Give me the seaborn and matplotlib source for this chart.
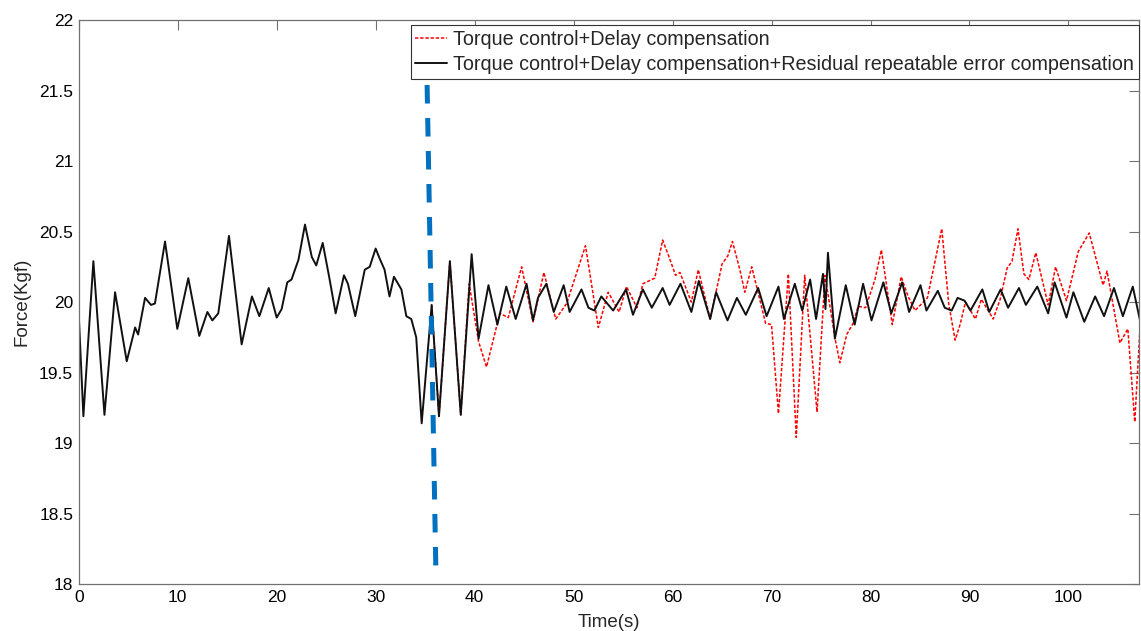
import matplotlib
matplotlib.use('Agg')
import matplotlib.pyplot as plt
import seaborn as sns
import pandas as pd
from matplotlib.ticker import FuncFormatter, MultipleLocator


# time / force (black = with residual compensation)
black_t = [0.03, 0.47, 1.48, 2.6, 3.67, 4.85, 5.7, 6.0, 6.7, 7.3, 7.7, 8.72, 9.96, 11.07, 12.18,
           13.0, 13.5, 14.1, 15.18, 16.46, 17.5, 18.25, 19.2, 20.0, 20.5, 21.07, 21.5, 22.2, 22.86,
           23.55, 24.0, 24.65, 25.3, 25.96, 26.8, 27.2, 27.94, 28.9, 29.4, 30.0, 30.4, 30.9, 31.4,
           31.85, 32.6, 33.1, 33.6, 34.1, 34.65, 35.66, 36.4, 37.5, 38.6, 39.7, 40.4, 41.4, 42.3,
           43.2, 44.15, 45.25, 45.9, 46.4, 47.25, 48.0, 49.0, 49.6, 50.8, 51.5, 52.1, 52.8, 54.0,
           55.3, 56.0, 57.0, 57.9, 59.0, 59.7, 60.8, 61.9, 62.65, 63.8, 64.4, 65.55, 66.5, 67.4,
           68.65, 69.5, 70.7, 71.25, 72.35, 73.1, 73.9, 74.5, 75.2, 75.45, 75.7, 76.4, 77.5, 78.4,
           79.25, 80.1, 81.3, 82.1, 83.2, 83.9, 85.05, 85.65, 86.8, 87.5, 88.2, 88.8, 89.5, 90.1,
           91.3, 92.0, 93.15, 93.9, 95.0, 95.7, 96.85, 97.95, 98.6, 99.8, 100.5, 101.6, 102.7,
           103.6, 104.6, 105.5, 106.5, 107.2]
black_f = [19.87, 19.19, 20.29, 19.20, 20.07, 19.58, 19.82, 19.77, 20.03, 19.98, 19.99, 20.43, 19.81,
           20.17, 19.76, 19.93, 19.87, 19.92, 20.47, 19.70, 20.04, 19.90, 20.10, 19.89, 19.95, 20.14,
           20.16, 20.30, 20.55, 20.32, 20.26, 20.42, 20.18, 19.92, 20.19, 20.13, 19.90, 20.23, 20.25,
           20.38, 20.31, 20.23, 20.04, 20.18, 20.09, 19.90, 19.88, 19.75, 19.14, 19.98, 19.19, 20.29,
           19.20, 20.34, 19.74, 20.12, 19.84, 20.11, 19.88, 20.13, 19.87, 20.03, 20.13, 19.93, 20.12,
           19.93, 20.09, 19.96, 19.94, 20.04, 19.94, 20.09, 19.91, 20.09, 19.96, 20.10, 19.98, 20.13,
           19.93, 20.15, 19.88, 20.07, 19.87, 20.03, 19.91, 20.10, 19.90, 20.11, 19.88, 20.13, 19.94,
           20.16, 19.88, 20.20, 19.95, 20.35, 19.74, 20.12, 19.84, 20.13, 19.87, 20.14, 19.92, 20.14,
           19.93, 20.12, 19.94, 20.08, 19.96, 19.94, 20.03, 20.01, 19.94, 20.09, 19.93, 20.09, 19.96,
           20.10, 19.98, 20.11, 19.92, 20.14, 19.89, 20.07, 19.86, 20.04, 19.90, 20.10, 19.90, 20.11,
           19.88]

# red = torque control + delay compensation only (starts at the switch)
red_t = [35.66, 36.4, 37.5, 38.6, 39.45, 40.4, 41.2, 41.7, 42.55, 43.4, 44.75, 45.9, 47.0, 48.2,
         49.3, 51.2, 52.5, 53.5, 54.6, 55.35, 56.4, 57.0, 58.2, 59.0, 59.7, 60.3, 60.75, 61.9,
         62.6, 63.8, 65.0, 65.6, 66.05, 66.8, 67.3, 68.0, 69.4, 70.0, 70.7, 71.7, 72.5, 73.35,
         74.6, 75.4, 76.4, 76.9, 77.6, 78.25, 78.75, 79.5, 80.45, 81.1, 82.2, 83.1, 83.8, 84.5,
         85.75, 87.2, 87.9, 88.55, 89.05, 89.6, 90.6, 91.2, 92.4, 93.1, 93.8, 94.3, 94.9, 95.5,
         96.0, 96.7, 97.95, 98.7, 99.8, 101.0, 102.1, 103.5, 103.9, 105.2, 106.0, 106.7, 107.2]
red_f = [19.98, 19.19, 20.29, 19.20, 20.13, 19.72, 19.54, 19.68, 19.92, 19.89, 20.25, 19.86, 20.21,
         19.88, 19.99, 20.40, 19.82, 20.07, 19.93, 20.11, 19.96, 20.13, 20.17, 20.44, 20.31, 20.19,
         20.21, 20.00, 20.23, 19.88, 20.27, 20.33, 20.43, 20.23, 20.07, 20.25, 19.85, 19.84, 19.21,
         20.20, 19.04, 20.19, 19.22, 20.19, 19.75, 19.57, 19.77, 19.85, 19.97, 19.96, 20.16, 20.37,
         19.84, 20.18, 20.04, 19.94, 20.03, 20.52, 19.99, 19.73, 19.84, 20.00, 19.88, 20.02, 19.88,
         20.02, 20.24, 20.29, 20.52, 20.20, 20.16, 20.35, 19.98, 20.25, 20.01, 20.36, 20.49, 20.12,
         20.22, 19.71, 19.81, 19.15, 19.78]

# blue dashed divider (slightly slanted in the original)
divider_t = [35.2, 36.1]
divider_f = [21.54, 18.04]

labels = ['Torque control+Delay compensation',
          'Torque control+Delay compensation+Residual repeatable error compensation']
x_ticks = list(range(0, 101, 10))


sns.set_style('white')
plt.rcParams['font.family'] = ['Liberation Sans', 'DejaVu Sans']

fig = plt.figure(figsize=(11.41, 6.31), dpi=100)
ax = fig.add_axes([0.069, 0.0745, 0.929, 0.8935])

red_df = pd.DataFrame({'t': red_t, 'f': red_f})
black_df = pd.DataFrame({'t': black_t, 'f': black_f})
div_df = pd.DataFrame({'t': divider_t, 'f': divider_f})

sns.lineplot(data=red_df, x='t', y='f', ax=ax, color='#ff0000', linewidth=1.1,
             linestyle=(0, (2.2, 1.2)), label=labels[0])
sns.lineplot(data=black_df, x='t', y='f', ax=ax, color='#111111', linewidth=1.4,
             label=labels[1])
sns.lineplot(data=div_df, x='t', y='f', ax=ax, color='#0070c0', linewidth=3.6,
             linestyle=(0, (3.7, 2.9)))

ax.set_xlim(0, 107.1)
ax.set_ylim(18, 22)
ax.set_xticks(x_ticks)
ax.yaxis.set_major_locator(MultipleLocator(0.5))
ax.yaxis.set_major_formatter(FuncFormatter(lambda v, p: f'{v:g}'))

for side in ax.spines.values():
    side.set_color('#707070')
    side.set_linewidth(0.9)
ax.tick_params(direction='in', length=7, width=0.8, color='#707070', labelcolor='black',
               labelsize=12.5, top=True, right=True, pad=4)

ax.set_xlabel('Time(s)', fontsize=13.5, labelpad=7)
ax.set_ylabel('Force(Kgf)', fontsize=13.5, labelpad=6)

leg = ax.legend(loc='upper right', bbox_to_anchor=(1.0, 0.991), fontsize=14.2, frameon=True,
                fancybox=False, edgecolor='#333333', framealpha=1, borderaxespad=0,
                handlelength=1.6, handletextpad=0.3, borderpad=0.25, labelspacing=0.3)
leg.get_frame().set_linewidth(0.8)

fig.savefig('out.png', dpi=100)
